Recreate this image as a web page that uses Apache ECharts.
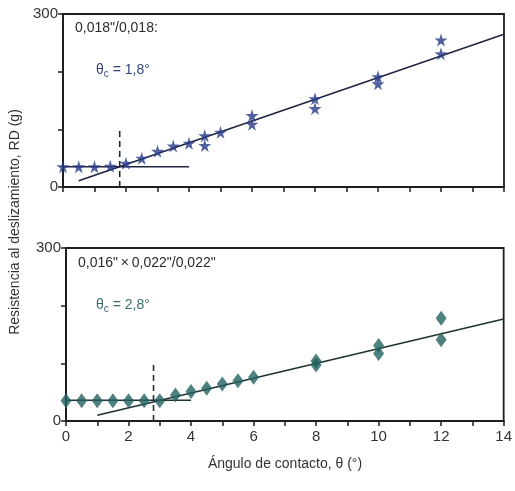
<!DOCTYPE html>
<html>
<head>
<meta charset="utf-8">
<script src="https://cdn.jsdelivr.net/npm/echarts@6/dist/echarts.min.js"></script>
<style>
  html, body { margin: 0; padding: 0; background: #fff; }
  #chart { width: 515px; height: 491px; }
</style>
</head>
<body>
<div id="chart"></div>
<script>
// Wire 0,018"/0,018 slot: contact angle (deg) vs. sliding resistance (g)
const angleTop = [0, 0.5, 1, 1.5, 2, 2.5, 3, 3.5, 4, 4.5, 4.5, 5, 6, 6, 8, 8, 10, 10, 12, 12];
const rdTop    = [35, 35, 35, 36, 41, 50, 62, 71, 76, 89, 72, 95, 124, 109, 153, 136, 191, 179, 255, 231];
const fitTop   = [[0.5, 11], [14, 265]];
const flatTop  = [[0, 35], [4, 35]];
const critTop  = 1.8;

// Wire 0,016"x0,022" in 0,022" slot
const angleBot = [0, 0.5, 1, 1.5, 2, 2.5, 3, 3.5, 4, 4.5, 5, 5.5, 6, 8, 8, 10, 10, 12, 12];
const rdBot    = [35, 35, 35, 35, 35, 35, 35, 45, 51, 57, 64, 70, 76, 104, 97, 131, 117, 178, 141];
const fitBot   = [[1, 10], [14, 177]];
const flatBot  = [[0, 36], [4, 36]];
const critBot  = 2.8;

const critHeight = 100;
const yTicks = [0, 300];

const starPath = 'path://M50,0 L61,35 L98,35 L68,57 L79,91 L50,70 L21,91 L32,57 L2,35 L39,35 Z';
const FONT = 'Liberation Sans, Arial, sans-serif';
const AXIS = '#1e1e1e';

function xAxisCfg(gridIndex, labels) {
  return {
    type: 'value', gridIndex, min: 0, max: 14, interval: 1,
    axisLine: { lineStyle: { color: AXIS, width: 1.8 } },
    axisTick: { length: 5, lineStyle: { color: AXIS, width: 1.5 } },
    axisLabel: {
      show: labels, margin: 8, color: '#333', fontSize: 15, fontFamily: FONT,
      formatter: v => (v % 2 === 0 ? String(v) : '')
    },
    splitLine: { show: false }
  };
}
function yAxisCfg(gridIndex) {
  return {
    type: 'value', gridIndex, min: 0, max: 300, interval: 100,
    axisLine: { lineStyle: { color: AXIS, width: 1.8 } },
    axisTick: { length: 5, lineStyle: { color: AXIS, width: 1.5 } },
    axisLabel: {
      margin: 5, color: '#333', fontSize: 15, fontFamily: FONT,
      formatter: v => (yTicks.includes(v) ? String(v) : '')
    },
    splitLine: { show: false }
  };
}
function pairs(xs, ys) { return xs.map((x, i) => [x, ys[i]]); }
function lineSeries(idx, data, dashed, color) {
  return {
    type: 'line', xAxisIndex: idx, yAxisIndex: idx, data, symbol: 'none',
    lineStyle: { color, width: 1.6, type: dashed ? [6, 4] : 'solid' },
    z: 1, silent: true
  };
}

const chart = echarts.init(document.getElementById('chart'));
chart.setOption({
  animation: false,
  backgroundColor: '#fff',
  grid: [
    { left: 63, top: 14, width: 441, height: 173, show: true, borderColor: AXIS, borderWidth: 1.8 },
    { left: 66, top: 248, width: 441, height: 173, show: true, borderColor: AXIS, borderWidth: 1.8 }
  ],
  xAxis: [xAxisCfg(0, false), xAxisCfg(1, true)],
  yAxis: [yAxisCfg(0), yAxisCfg(1)],
  series: [
    lineSeries(0, fitTop, false, '#1f2540'),
    lineSeries(0, flatTop, false, '#1f2540'),
    lineSeries(0, [[critTop, 0], [critTop, critHeight]], true, '#1f2540'),
    {
      type: 'scatter', xAxisIndex: 0, yAxisIndex: 0, data: pairs(angleTop, rdTop),
      symbol: starPath, symbolSize: 13,
      itemStyle: { color: '#263a88' }, z: 3
    },
    lineSeries(1, fitBot, false, '#1f3333'),
    lineSeries(1, flatBot, false, '#1f3333'),
    lineSeries(1, [[critBot, 0], [critBot, critHeight]], true, '#1f3333'),
    {
      type: 'scatter', xAxisIndex: 1, yAxisIndex: 1, data: pairs(angleBot, rdBot),
      symbol: 'diamond', symbolSize: [11, 15],
      itemStyle: { color: '#22625f' }, z: 3
    }
  ],
  graphic: [
    { type: 'text', left: 75, top: 21, style: { text: '0,018"/0,018:', font: '14px ' + FONT, fill: '#2a2a2a' } },
    { type: 'text', left: 96, top: 63, style: {
        text: '{t|θ}{s|c}{t| = 1,8°}', fill: '#34447e',
        rich: { t: { font: '14px ' + FONT, fill: '#34447e' }, s: { font: '10px ' + FONT, fill: '#34447e', padding: [8, 0, 0, 0] } }
    } },
    { type: 'text', left: 78, top: 256, style: { text: '0,016"\u2009×\u20090,022"/0,022"', font: '14px ' + FONT, fill: '#2a2a2a' } },
    { type: 'text', left: 96, top: 298, style: {
        text: '{t|θ}{s|c}{t| = 2,8°}', fill: '#3a6e6c',
        rich: { t: { font: '14px ' + FONT, fill: '#3a6e6c' }, s: { font: '10px ' + FONT, fill: '#3a6e6c', padding: [8, 0, 0, 0] } }
    } },
    { type: 'text', x: 15, y: 222, rotation: Math.PI / 2, style: {
        text: 'Resistencia al deslizamiento, RD (g)', font: '14px ' + FONT, fill: '#333',
        align: 'center', verticalAlign: 'middle'
    } },
    { type: 'text', x: 285, y: 464, style: {
        text: 'Ángulo de contacto, θ (°)', font: '14px ' + FONT, fill: '#333',
        align: 'center', verticalAlign: 'middle'
    } }
  ]
});
</script>
</body>
</html>
